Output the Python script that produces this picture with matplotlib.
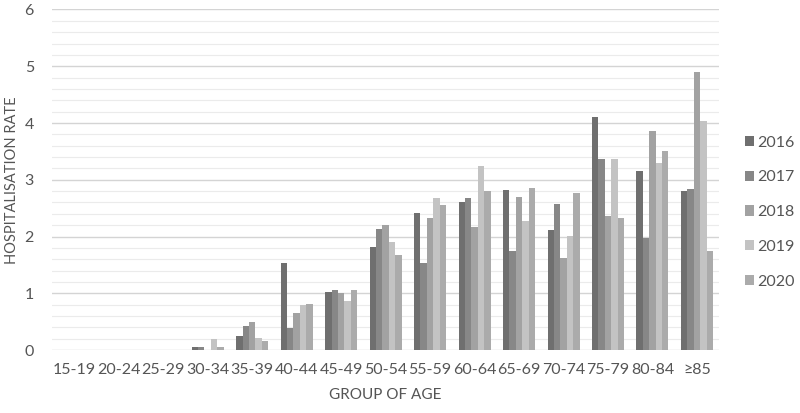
import matplotlib
matplotlib.use("Agg")
import matplotlib.pyplot as plt
import numpy as np

# ── data ────────────────────────────────────────────────────────────────────
age_groups = ["15-19", "20-24", "25-29", "30-34", "35-39", "40-44", "45-49",
              "50-54", "55-59", "60-64", "65-69", "70-74", "75-79", "80-84", "≥85"]
years = ["2016", "2017", "2018", "2019", "2020"]

rate_2016 = [0, 0, 0, 0.05, 0.25, 1.54, 1.02, 1.82, 2.42, 2.61, 2.82, 2.11, 4.10, 3.15, 2.80]
rate_2017 = [0, 0, 0, 0.05, 0.42, 0.39, 1.06, 2.13, 1.54, 2.68, 1.75, 2.57, 3.37, 1.98, 2.83]
rate_2018 = [0, 0, 0, 0.00, 0.50, 0.65, 1.00, 2.21, 2.32, 2.17, 2.69, 1.63, 2.36, 3.86, 4.89]
rate_2019 = [0, 0, 0, 0.19, 0.22, 0.79, 0.87, 1.90, 2.67, 3.25, 2.28, 2.01, 3.37, 3.30, 4.04]
rate_2020 = [0, 0, 0, 0.06, 0.16, 0.81, 1.06, 1.68, 2.55, 2.81, 2.86, 2.76, 2.33, 3.51, 1.74]

series = [rate_2016, rate_2017, rate_2018, rate_2019, rate_2020]
colors = ["#6f6f6f", "#878787", "#a2a2a2", "#c3c3c3", "#ababab"]

plt.rcParams["font.family"] = ["Lato", "DejaVu Sans"]

fig = plt.figure(figsize=(8, 4.13), dpi=100)
ax = fig.add_axes([0.065, 0.1525, 0.834, 0.8245])

x = np.arange(len(age_groups))
bw = 0.144
for i, (vals, yr, c) in enumerate(zip(series, years, colors)):
    ax.bar(x + (i - 2) * bw, vals, width=bw, color=c, label=yr, zorder=3)

ax.set_xlim(-0.5, len(age_groups) - 0.5)
ax.set_ylim(0, 6)
ax.set_yticks(range(7))
ax.set_yticks(np.arange(0, 6, 0.2), minor=True)
ax.grid(axis="y", which="major", color="#d4d4d4", linewidth=1.0, zorder=0)
ax.grid(axis="y", which="minor", color="#ebebeb", linewidth=0.8, zorder=0)
ax.set_xticks(x)
ax.set_xticklabels(age_groups)
ax.tick_params(axis="both", which="both", length=0, labelsize=11.5, colors="#555555")
ax.tick_params(axis="x", pad=9)
ax.tick_params(axis="y", pad=13)
for s in ax.spines.values():
    s.set_visible(False)

ax.set_xlabel("GROUP OF AGE", fontsize=11, color="#555555", labelpad=8)
ax.set_ylabel("HOSPITALISATION RATE", fontsize=10.5, color="#555555", labelpad=4)

ax.legend(loc="center left", bbox_to_anchor=(1.038, 0.405), frameon=False,
          borderaxespad=0, borderpad=0,
          fontsize=11.5, handlelength=0.6, handleheight=0.6, handletextpad=0.2,
          labelspacing=1.3, labelcolor="#555555")

plt.savefig("out.png", dpi=100)
plt.close()
